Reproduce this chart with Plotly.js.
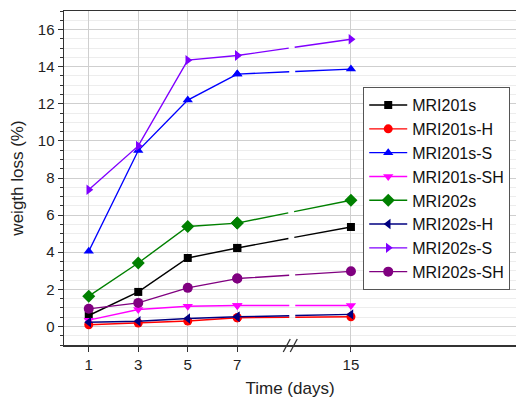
<!DOCTYPE html>
<html>
<head>
<meta charset="utf-8">
<script src="https://cdn.plot.ly/plotly-3.0.1.min.js"></script>
<style>html,body{margin:0;padding:0;background:#fff;}#chart{width:518px;height:398px;}</style>
</head>
<body>
<div id="chart"></div>
<script>
// ---- data ----
const days = [1, 3, 5, 7, 15];
const tickLabels = ['1', '3', '5', '7', '15'];
const seriesNames = ['MRI201s', 'MRI201s-H', 'MRI201s-S', 'MRI201s-SH', 'MRI202s', 'MRI202s-H', 'MRI202s-S', 'MRI202s-SH'];
const MRI201s    = [0.59, 1.86, 3.69, 4.23, 5.36];
const MRI201s_H  = [0.09, 0.18, 0.29, 0.47, 0.52];
const MRI201s_S  = [4.05, 9.48, 12.2, 13.6, 13.87];
const MRI201s_SH = [0.34, 0.91, 1.09, 1.13, 1.13];
const MRI202s    = [1.63, 3.42, 5.39, 5.57, 6.8];
const MRI202s_H  = [0.23, 0.28, 0.43, 0.52, 0.65];
const MRI202s_S  = [7.37, 9.73, 14.35, 14.6, 15.48];
const MRI202s_SH = [0.95, 1.27, 2.08, 2.58, 2.97];
const seriesValues = [MRI201s, MRI201s_H, MRI201s_S, MRI201s_SH, MRI202s, MRI202s_H, MRI202s_S, MRI202s_SH];

// ---- styles ----
const colors = ['#000000', '#ff0000', '#0000ff', '#ff00ff', '#008000', '#000080', '#8000ff', '#800080'];
const symbols = ['square', 'circle', 'triangle-up', 'triangle-down', 'diamond', 'triangle-left', 'triangle-right', 'circle'];
const sizes = [8, 9, 9, 9, 10, 9, 9, 10];

// broken axis: days after the break are compressed
const breakAfter = 7;
const compress = 0.574;
const breakPos = 9.14;
function axisPos(d) { return d <= breakAfter ? d : breakAfter + (d - breakAfter) * compress; }
const xPos = days.map(axisPos);
const nBefore = days.filter(d => d <= breakAfter).length;

const traces = [];
seriesNames.forEach((name, i) => {
  const vals = seriesValues[i];
  const marker = {symbol: symbols[i], size: sizes[i], color: colors[i], line: {width: 0}};
  traces.push({
    x: xPos.slice(0, nBefore), y: vals.slice(0, nBefore), name: name,
    mode: 'lines+markers', type: 'scatter', legendgroup: name,
    line: {color: colors[i], width: 1.4}, marker: marker
  });
  traces.push({
    x: xPos.slice(nBefore - 1), y: vals.slice(nBefore - 1), name: name,
    mode: 'lines+markers', type: 'scatter', legendgroup: name, showlegend: false,
    line: {color: colors[i], width: 1.4, dash: '52px,6px,300px'}, marker: marker
  });
});

const layout = {
  width: 518, height: 398,
  margin: {l: 63.5, r: 2, t: 11, b: 53},
  paper_bgcolor: '#ffffff', plot_bgcolor: '#ffffff',
  font: {family: 'Arial, "Liberation Sans", sans-serif', color: '#222'},
  showlegend: true,
  legend: {
    x: 0.662, y: 0.772, xanchor: 'left', yanchor: 'top',
    bordercolor: '#555', borderwidth: 1, bgcolor: '#ffffff',
    font: {size: 16, color: '#111'}, tracegroupgap: 0, itemwidth: 38
  },
  xaxis: {
    range: [0, 18.26], tickmode: 'array', tickvals: xPos, ticktext: tickLabels,
    showline: true, linecolor: '#333', linewidth: 1.5, mirror: true,
    ticks: 'outside', ticklen: 5, tickcolor: '#333', tickwidth: 1,
    showgrid: true, gridcolor: '#cfcfcf', gridwidth: 1, zeroline: false,
    tickfont: {size: 15, color: '#222'},
    title: {text: 'Time (days)', font: {size: 17, color: '#222'}, standoff: 14}
  },
  yaxis: {
    range: [-1, 17], dtick: 2, tick0: 0,
    showline: true, linecolor: '#333', linewidth: 1.5,
    ticks: 'outside', ticklen: 5, tickcolor: '#333', tickwidth: 1,
    showgrid: true, gridcolor: '#cfcfcf', gridwidth: 1, zeroline: false,
    minor: {dtick: 0.5, ticks: 'outside', ticklen: 3, tickcolor: '#333', showgrid: true, gridcolor: '#ededed', gridwidth: 1},
    tickfont: {size: 15, color: '#222'},
    title: {text: 'weigth loss (%)', font: {size: 17, color: '#222'}, standoff: 10}
  },
  shapes: [
    {type: 'line', xref: 'x', yref: 'paper', xsizemode: 'pixel', ysizemode: 'pixel',
     xanchor: breakPos, yanchor: 0, x0: -7, y0: -7, x1: 0, y1: 6, line: {color: '#333', width: 1.3}},
    {type: 'line', xref: 'x', yref: 'paper', xsizemode: 'pixel', ysizemode: 'pixel',
     xanchor: breakPos, yanchor: 0, x0: 0, y0: -7, x1: 7, y1: 6, line: {color: '#333', width: 1.3}}
  ]
};

Plotly.newPlot('chart', traces, layout, {displayModeBar: false, staticPlot: true});
</script>
</body>
</html>
